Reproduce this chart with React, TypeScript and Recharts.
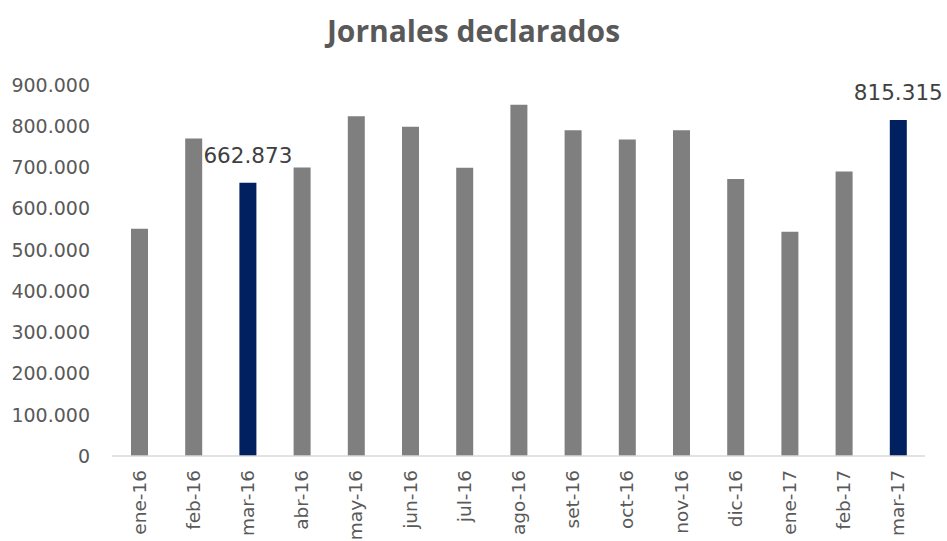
import { BarChart, Bar, XAxis, YAxis, Cell, LabelList } from "recharts";

const months = [
  "ene-16", "feb-16", "mar-16", "abr-16", "may-16", "jun-16", "jul-16", "ago-16",
  "set-16", "oct-16", "nov-16", "dic-16", "ene-17", "feb-17", "mar-17",
];

const jornales = [
  551000, 770000, 662873, 700000, 824000, 799000, 699000, 852000,
  790000, 768000, 790000, 672000, 544000, 690000, 815315,
];

// months whose bar is highlighted and labelled
const highlighted = ["mar-16", "mar-17"];

const yTicks = [0, 100000, 200000, 300000, 400000, 500000, 600000, 700000, 800000, 900000];

const data = months.map((mes, i) => ({ mes, valor: jornales[i] }));

const GRAY = "#7f7f7f";
const NAVY = "#002060";
const TEXT = "#595959";
const FONT = "'DejaVu Sans', sans-serif";

const fmt = (v: number) => v.toLocaleString("de-DE");

function XTick({ x, y, payload }: any) {
  return (
    <text
      x={x}
      y={y}
      transform={`rotate(-90, ${x}, ${y})`}
      textAnchor="end"
      dominantBaseline="central"
      fill={TEXT}
      fontSize={18.5}
      fontFamily={FONT}
    >
      {payload.value}
    </text>
  );
}

function ValueLabel({ x, y, width, value, index }: any) {
  if (!highlighted.includes(months[index])) return null;
  return (
    <text
      x={x + width / 2}
      y={y - 20}
      textAnchor="middle"
      fill="#404040"
      fontSize={21.5}
      fontFamily={FONT}
    >
      {fmt(value)}
    </text>
  );
}

export default function App() {
  return (
    <div style={{ position: "absolute", left: 0, top: 0, width: 947, height: 541, background: "#fff" }}>
      <div
        style={{
          position: "absolute",
          left: 0,
          top: 10,
          width: 947,
          textAlign: "center",
          fontFamily: "'Open Sans', sans-serif",
          fontWeight: 700,
          fontSize: 30,
          color: TEXT,
        }}
      >
        Jornales declarados
      </div>
      <BarChart
        width={947}
        height={541}
        data={data}
        margin={{ top: 85, right: 22, bottom: 0, left: 0 }}
      >
        <XAxis
          dataKey="mes"
          interval={0}
          height={85}
          tickLine={false}
          axisLine={{ stroke: "#d9d9d9", strokeWidth: 1.5 }}
          tick={<XTick />}
          tickMargin={8}
        />
        <YAxis
          width={112}
          domain={[0, 900000]}
          ticks={yTicks}
          tickFormatter={fmt}
          axisLine={false}
          tickLine={false}
          tickMargin={16}
          tick={{ fill: TEXT, fontSize: 19, fontFamily: FONT }}
        />
        <Bar dataKey="valor" barSize={17} isAnimationActive={false}>
          {data.map((d) => (
            <Cell key={d.mes} fill={highlighted.includes(d.mes) ? NAVY : GRAY} />
          ))}
          <LabelList dataKey="valor" content={<ValueLabel />} />
        </Bar>
      </BarChart>
    </div>
  );
}
